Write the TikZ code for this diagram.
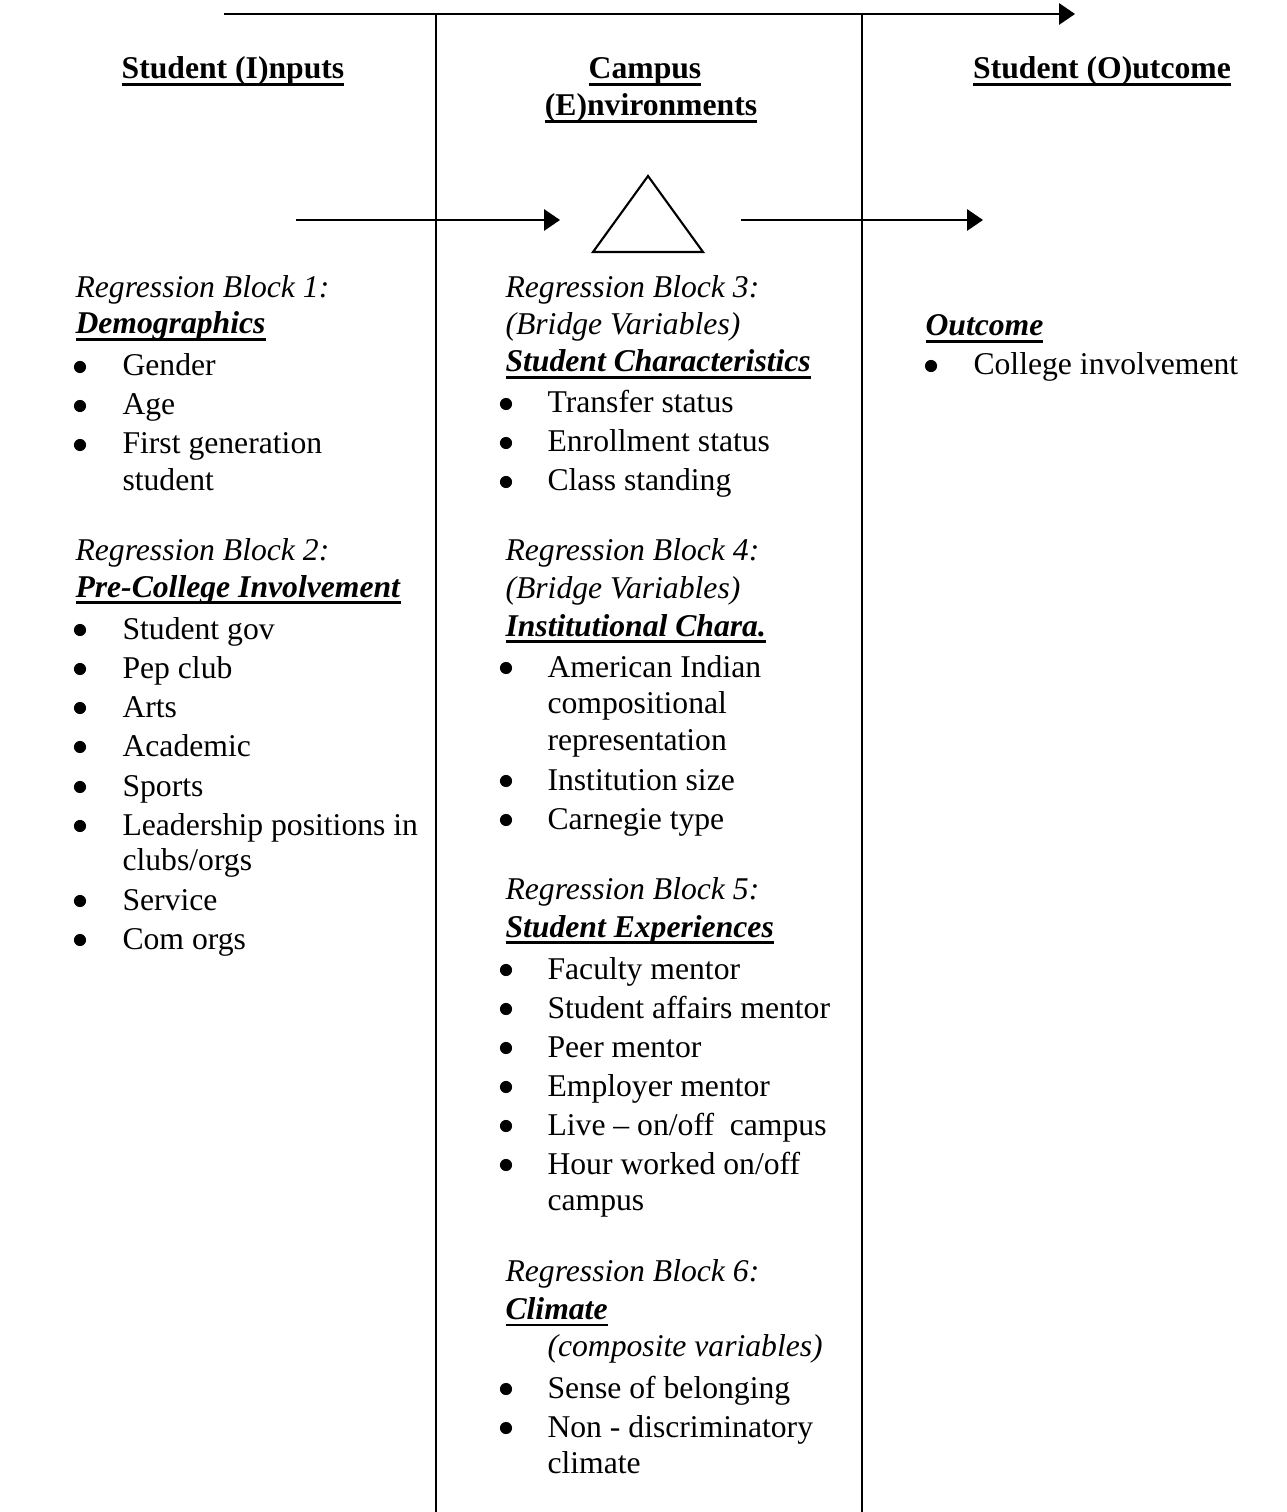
\documentclass[tikz,border=0pt]{standalone}
\usepackage{fontspec}
\setmainfont{Liberation Serif}
\usetikzlibrary{arrows.meta}

\newsavebox{\ulbox}
\newcommand{\ulin}[1]{\sbox{\ulbox}{#1}\rlap{\rule[-2.8pt]{\wd\ulbox}{1.1pt}}\usebox{\ulbox}}
\newcommand{\blk}[1]{\ulin{\textbf{\textit{#1}}}}

\tikzset{
  txt/.style={anchor=base west, inner sep=0pt, font=\fontsize{12}{14}\selectfont},
  bul/.style={circle, fill, inner sep=0pt, minimum size=4.6pt},
  hdr/.style={anchor=base, inner sep=0pt, font=\fontsize{12}{14}\selectfont\bfseries},
  flow/.style={line width=0.8pt, -{Triangle[length=6pt,width=8pt]}},
  rule/.style={line width=0.6pt},
}

\begin{document}
\begin{tikzpicture}[x=0.379pt,y=-0.379pt]
  \useasboundingbox (0,0) rectangle (1286,1512);
  % Time line and column rules
  \coordinate (timeL) at (224,14);
  \coordinate (timeR) at (1075,14);
  \draw[flow] (timeL) -- (timeR);
  \coordinate (ruleAtop) at (436,14);
  \coordinate (ruleAbot) at (436,1512);
  \coordinate (ruleBtop) at (862,14);
  \coordinate (ruleBbot) at (862,1512);
  \draw[rule] (ruleAtop) -- (ruleAbot);
  \draw[rule] (ruleBtop) -- (ruleBbot);
  % Column headings
  \node[hdr] (inHead) at (233,79) {\ulin{Student (I)nputs}};
  \node[hdr] (envHead) at (645,79) {\ulin{Campus}};
  \node[hdr] (envHeadB) at (651,116) {\ulin{(E)nvironments}};
  \node[hdr] (outHead) at (1102,79) {\ulin{Student (O)utcome}};
  % Triangle and arrows
  \coordinate (triTop) at (648,176);
  \coordinate (triL) at (593,252);
  \coordinate (triR) at (703,252);
  \draw[line width=0.8pt] (triTop) -- (triL) -- (triR) -- cycle;
  \coordinate (inL) at (296,220);
  \coordinate (inR) at (560,220);
  \draw[flow] (inL) -- (inR);
  \coordinate (outL) at (741,220);
  \coordinate (outR) at (983,220);
  \draw[flow] (outL) -- (outR);
  % Left column: Block 1
  \node[txt] (b1) at (75,298) {\textit{Regression Block 1:}};
  \node[txt] (b1Name) at (75,334) {\blk{Demographics}};
  \node[bul] (b1a) at (80,367) {};
  \node[txt] (b1aT) at (122,376) {Gender};
  \node[bul] (b1b) at (80,406) {};
  \node[txt] (b1bT) at (122,415) {Age};
  \node[bul] (b1c) at (80,445) {};
  \node[txt] (b1cT) at (122,454) {First generation};
  \node[txt] (b1cT2) at (122,490) {student};
  % Left column: Block 2
  \node[txt] (b2) at (75,561) {\textit{Regression Block 2:}};
  \node[txt] (b2Name) at (75,597) {\blk{Pre-College Involvement}};
  \node[bul] (b2a) at (80,630) {};
  \node[txt] (b2aT) at (122,639) {Student gov};
  \node[bul] (b2b) at (80,669) {};
  \node[txt] (b2bT) at (122,678) {Pep club};
  \node[bul] (b2c) at (80,708) {};
  \node[txt] (b2cT) at (122,717) {Arts};
  \node[bul] (b2d) at (80,747) {};
  \node[txt] (b2dT) at (122,756) {Academic};
  \node[bul] (b2e) at (80,787) {};
  \node[txt] (b2eT) at (122,796) {Sports};
  \node[bul] (b2f) at (80,826) {};
  \node[txt] (b2fT) at (122,835) {Leadership positions in};
  \node[txt] (b2fT2) at (122,870) {clubs/orgs};
  \node[bul] (b2g) at (80,901) {};
  \node[txt] (b2gT) at (122,910) {Service};
  \node[bul] (b2h) at (80,940) {};
  \node[txt] (b2hT) at (122,949) {Com orgs};
  % Middle column: Block 3
  \node[txt] (b3) at (505,298) {\textit{Regression Block 3:}};
  \node[txt] (b3Sub) at (505,335) {\textit{(Bridge Variables)}};
  \node[txt] (b3Name) at (505,372) {\blk{Student Characteristics}};
  \node[bul] (b3a) at (506,404) {};
  \node[txt] (b3aT) at (547,413) {Transfer status};
  \node[bul] (b3b) at (506,443) {};
  \node[txt] (b3bT) at (547,452) {Enrollment status};
  \node[bul] (b3c) at (506,482) {};
  \node[txt] (b3cT) at (547,491) {Class standing};
  % Middle column: Block 4
  \node[txt] (b4) at (505,561) {\textit{Regression Block 4:}};
  \node[txt] (b4Sub) at (505,598) {\textit{(Bridge Variables)}};
  \node[txt] (b4Name) at (505,636) {\blk{Institutional Chara.}};
  \node[bul] (b4a) at (506,668) {};
  \node[txt] (b4aT) at (547,677) {American Indian};
  \node[txt] (b4aT2) at (547,713) {compositional};
  \node[txt] (b4aT3) at (547,750) {representation};
  \node[bul] (b4b) at (506,781) {};
  \node[txt] (b4bT) at (547,790) {Institution size};
  \node[bul] (b4c) at (506,820) {};
  \node[txt] (b4cT) at (547,829) {Carnegie type};
  % Middle column: Block 5
  \node[txt] (b5) at (505,899) {\textit{Regression Block 5:}};
  \node[txt] (b5Name) at (505,937) {\blk{Student Experiences}};
  \node[bul] (b5a) at (506,970) {};
  \node[txt] (b5aT) at (547,979) {Faculty mentor};
  \node[bul] (b5b) at (506,1009) {};
  \node[txt] (b5bT) at (547,1018) {Student affairs mentor};
  \node[bul] (b5c) at (506,1048) {};
  \node[txt] (b5cT) at (547,1057) {Peer mentor};
  \node[bul] (b5d) at (506,1087) {};
  \node[txt] (b5dT) at (547,1096) {Employer mentor};
  \node[bul] (b5e) at (506,1126) {};
  \node[txt] (b5eT) at (547,1135) {Live -- on/off\ \ campus};
  \node[bul] (b5f) at (506,1165) {};
  \node[txt] (b5fT) at (547,1174) {Hour worked on/off};
  \node[txt] (b5fT2) at (547,1210) {campus};
  % Middle column: Block 6
  \node[txt] (b6) at (505,1281) {\textit{Regression Block 6:}};
  \node[txt] (b6Name) at (505,1319) {\blk{Climate}};
  \node[txt] (b6Sub) at (547,1356) {\textit{(composite variables)}};
  \node[bul] (b6a) at (506,1389) {};
  \node[txt] (b6aT) at (547,1398) {Sense of belonging};
  \node[bul] (b6b) at (506,1428) {};
  \node[txt] (b6bT) at (547,1437) {Non - discriminatory};
  \node[txt] (b6bT2) at (547,1473) {climate};
  % Right column: Outcome
  \node[txt] (outName) at (925,336) {\blk{Outcome}};
  \node[bul] (outa) at (931,366) {};
  \node[txt] (outaT) at (973,375) {College involvement};
\end{tikzpicture}
\end{document}
